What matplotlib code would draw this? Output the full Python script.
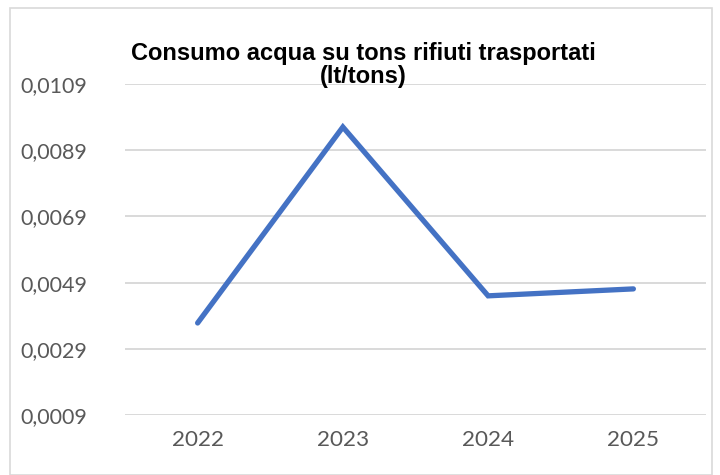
import matplotlib
matplotlib.use("Agg")
import matplotlib.pyplot as plt
from matplotlib.patches import Rectangle

years = ["2022", "2023", "2024", "2025"]
values = [0.00368, 0.0096, 0.00450, 0.00471]
yticks = [0.0009, 0.0029, 0.0049, 0.0069, 0.0089, 0.0109]
ytick_labels = ["0,0009", "0,0029", "0,0049", "0,0069", "0,0089", "0,0109"]
title = "Consumo acqua su tons rifiuti trasportati\n(lt/tons)"

W, H = 720, 475
fig = plt.figure(figsize=(W / 100, H / 100), dpi=100)
fig.patch.set_facecolor("white")

# outer border of chart
fig.add_artist(Rectangle((10 / W, 0), (712 - 10) / W, (475 - 8) / H,
                         transform=fig.transFigure, fill=False,
                         edgecolor="#D9D9D9", linewidth=1.2))

left, right, top, bottom = 125, 706, 84, 415
ax = fig.add_axes([left / W, 1 - bottom / H, (right - left) / W, (bottom - top) / H])

x = list(range(len(years)))
ax.plot(x, values, color="#4472C4", linewidth=3.8, solid_capstyle="round",
        solid_joinstyle="miter", zorder=3)

ax.set_xlim(-0.5, len(years) - 0.5)
ax.set_ylim(yticks[0], yticks[-1])
ax.set_xticks(x)
ax.set_xticklabels(years)
ax.set_yticks(yticks)
ax.set_yticklabels(ytick_labels)

font = ["Liberation Sans Narrow", "Lato", "DejaVu Sans"]
for lab in ax.get_yticklabels():
    lab.set_family(font)
    lab.set_fontsize(15.5)
    lab.set_color("#595959")
for lab in ax.get_xticklabels():
    lab.set_family(font)
    lab.set_fontsize(16.2)
    lab.set_color("#595959")

ax.tick_params(axis="both", length=0)
ax.tick_params(axis="y", pad=27)
ax.tick_params(axis="x", pad=11)
ax.grid(axis="y", color="#D9D9D9", linewidth=1.4)
ax.set_axisbelow(True)
for s in ax.spines.values():
    s.set_visible(False)
ax.patch.set_alpha(0)

fig.text(363 / W, 1 - 65 / H, title, ha="center", va="center",
         fontsize=17, fontweight="bold", family=["Liberation Sans", "DejaVu Sans"],
         color="black", linespacing=1.05)

fig.savefig("out.png", dpi=100)
